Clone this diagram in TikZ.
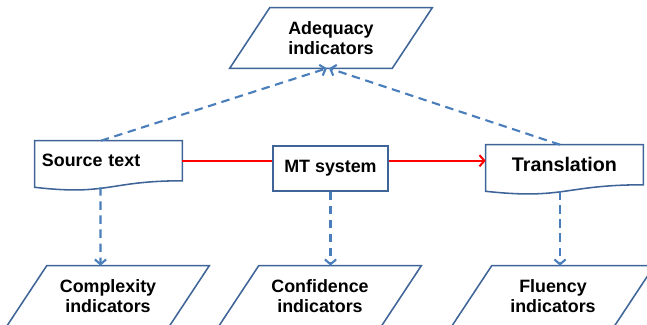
\documentclass[tikz,border=0pt]{standalone}
\usepackage{fontspec}
\setmainfont{Liberation Sans}
\usetikzlibrary{arrows.meta,calc}
\definecolor{boxblue}{RGB}{62,100,152}
\definecolor{linkblue}{RGB}{74,126,187}
\tikzset{
        lbl/.style={font=\bfseries\fontsize{12.7}{14.2}\selectfont, align=center},
        para/.style={lbl, minimum width=4.05cm, minimum height=1.5cm, inner sep=0pt},
        outline/.style={draw=boxblue, line width=1.1pt},
        linkarrow/.style={draw=linkblue, line width=1.5pt, dash pattern=on 6pt off 4pt, -{Straight Barb[length=3.5pt,width=8pt]}},
        redlink/.style={draw=red, line width=1.4pt}
}
\begin{document}
\begin{tikzpicture}[x=0.025cm,y=0.025cm]
        \path[use as bounding box, clip](0,0) rectangle (647,-324);
        \node[para](adeq) at (331,-38) {Adequacy\\indicators};
        \node[para](cplx) at (108,-296) {Complexity\\indicators};
        \node[para](conf) at (320,-296) {Confidence\\indicators};
        \node[para](flu) at (553,-296) {Fluency\\indicators};
        \node[lbl, minimum height=0.9875cm, inner xsep=0.175cm, text width=3.325cm, align=left](src) at (108.5,-160.75) {Source text};
        \node[lbl, outline, minimum width=2.875cm, minimum height=1.125cm](mt) at (330.5,-168.5) {MT system};
        \node[lbl, font=\bfseries\fontsize{14}{16}\selectfont, minimum width=3.925cm, minimum height=0.9875cm](trans) at (564.5,-164.75) {Translation};
        \foreach \n in {adeq,cplx,conf,flu}
                \draw[outline]([xshift=0.5cm]\n.north west)--([xshift=0.5cm]\n.north east)--([xshift=-0.5cm]\n.south east)--([xshift=-0.5cm]\n.south west)--cycle;
        \foreach \n in {src,trans}
                \draw[outline](\n.north west)--(\n.north east)--(\n.south east) .. controls (\n.south) and ($(\n.south)+(0,-15.1)$) .. ($(\n.south west)+(0,-6.5)$)--cycle;
        \draw[redlink](src.east)--(src.east -| mt.west);
        \draw[redlink, -{Straight Barb[length=3.5pt,width=8pt]}](mt.east |- src.east)--(trans.west |- src.east);
        \draw[linkarrow]([xshift=-0.19cm]src.north)--([xshift=-0.1cm]adeq.south);
        \draw[linkarrow]([xshift=-0.11cm]trans.north)--([xshift=-0.05cm]adeq.south);
        \draw[linkarrow]($(src.south)+(-8,-6.5)$)--($(cplx.north)+(-7.5,0)$);
        \draw[linkarrow](mt.south)--(mt.south |- conf.north);
        \draw[linkarrow]($(trans.south)+(-4.5,-6.5)$)--($(flu.north)+(7,0)$);
\end{tikzpicture}
\end{document}
